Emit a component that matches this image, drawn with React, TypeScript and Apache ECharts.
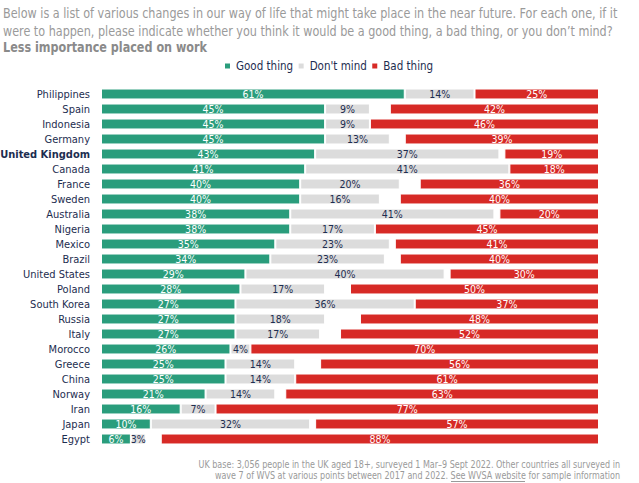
import React, { useEffect, useRef } from "react";
import * as echarts from "echarts";

const countries = [
  "Philippines", "Spain", "Indonesia", "Germany", "United Kingdom", "Canada", "France", "Sweden",
  "Australia", "Nigeria", "Mexico", "Brazil", "United States", "Poland", "South Korea", "Russia",
  "Italy", "Morocco", "Greece", "China", "Norway", "Iran", "Japan", "Egypt",
];
const goodThing = [61, 45, 45, 45, 43, 41, 40, 40, 38, 38, 35, 34, 29, 28, 27, 27, 27, 26, 25, 25, 21, 16, 10, 6];
const dontMind = [14, 9, 9, 13, 37, 41, 20, 16, 41, 17, 23, 23, 40, 17, 36, 18, 17, 4, 14, 14, 14, 7, 32, 3];
const badThing = [25, 42, 46, 39, 19, 18, 36, 40, 20, 45, 41, 40, 30, 50, 37, 48, 52, 70, 56, 61, 63, 77, 57, 88];
const highlight = "United Kingdom";

const FONT = "'DejaVu Sans Condensed', 'DejaVu Sans', sans-serif";
const GREEN = "#2a9d7c";
const GREY = "#dcdcdc";
const RED = "#d72a26";
const NAVY = "#1d2d50";
const NOTE = "#9a9a9a";

export default function App() {
  const ref = useRef<HTMLDivElement>(null);
  useEffect(() => {
    if (!ref.current) return;
    const chart = echarts.init(ref.current, undefined, { renderer: "svg" });
    const gap = countries.map((_, i) => Math.max(0, 100 - goodThing[i] - dontMind[i] - badThing[i]));
    const lbl = (color: string) => ({
      show: true,
      position: "inside",
      color,
      fontFamily: FONT,
      fontSize: 10.5,
      formatter: (p: any) => `${p.value}%`,
    });
    const item = (color: string) => ({ color, borderColor: "#ffffff", borderWidth: 1 });
    chart.setOption({
      animation: false,
      textStyle: { fontFamily: FONT },
      legend: {
        top: 55,
        left: 218,
        itemWidth: 7,
        itemHeight: 7,
        itemGap: 3.5,
        icon: "rect",
        data: ["Good thing", "Don't mind", "Bad thing"],
        textStyle: { fontFamily: FONT, fontSize: 11.5, color: NAVY },
      },
      grid: { left: 101, right: 40, top: 86.5, height: 360, outerBoundsMode: "none", containLabel: false },
      xAxis: { type: "value", min: 0, max: 100, show: false },
      yAxis: {
        type: "category",
        inverse: true,
        data: countries,
        axisLine: { show: false },
        axisTick: { show: false },
        axisLabel: {
          interval: 0,
          margin: 11,
          fontSize: 11,
          fontFamily: FONT,
          color: NAVY,
          formatter: (v: string) => (v === highlight ? `{b|${v}}` : v),
          rich: { b: { fontWeight: "bold", fontSize: 11, fontFamily: FONT, color: NAVY } },
        },
      },
      series: [
        { name: "Good thing", type: "bar", stack: "t", data: goodThing, barCategoryGap: "27%", itemStyle: item(GREEN), label: lbl("#ffffff") },
        { name: "Don't mind", type: "bar", stack: "t", data: dontMind, itemStyle: item(GREY), label: lbl(NAVY) },
        { name: "gap", type: "bar", stack: "t", data: gap, itemStyle: { color: "transparent" }, label: { show: false }, silent: true },
        { name: "Bad thing", type: "bar", stack: "t", data: badThing, itemStyle: item(RED), label: lbl("#ffffff") },
      ],
      graphic: [
        { type: "text", x: 3, y: 6, scaleX: 0.89, style: { text: "Below is a list of various changes in our way of life that might take place in the near future. For each one, if it", fontFamily: FONT, fontSize: 14, fill: NOTE, verticalAlign: "top" } },
        { type: "text", x: 3, y: 24, scaleX: 0.89, style: { text: "were to happen, please indicate whether you think it would be a good thing, a bad thing, or you don\u2019t mind?", fontFamily: FONT, fontSize: 14, fill: NOTE, verticalAlign: "top" } },
        { type: "text", x: 3, y: 40, scaleX: 0.89, style: { text: "Less importance placed on work", fontFamily: FONT, fontSize: 14, fontWeight: "bold", fill: "#8a8a8a", verticalAlign: "top" } },
        { type: "text", x: 620, y: 459, scaleX: 0.85, style: { text: "UK base: 3,056 people in the UK aged 18+, surveyed 1 Mar\u20139 Sept 2022. Other countries all surveyed in", fontFamily: FONT, fontSize: 10.5, fill: NOTE, align: "right", verticalAlign: "top" } },
        { type: "text", x: 620, y: 470, scaleX: 0.85, style: { text: "wave 7 of WVS at various points between 2017 and 2022. See WVSA website for sample information", fontFamily: FONT, fontSize: 10.5, fill: NOTE, align: "right", verticalAlign: "top" } },
        { type: "line", shape: { x1: 451, y1: 481.5, x2: 525, y2: 481.5 }, style: { stroke: NOTE, lineWidth: 1 } },
      ],
    });
    return () => chart.dispose();
  }, []);
  return <div ref={ref} style={{ position: "absolute", left: 0, top: 0, width: 639, height: 483 }} />;
}
